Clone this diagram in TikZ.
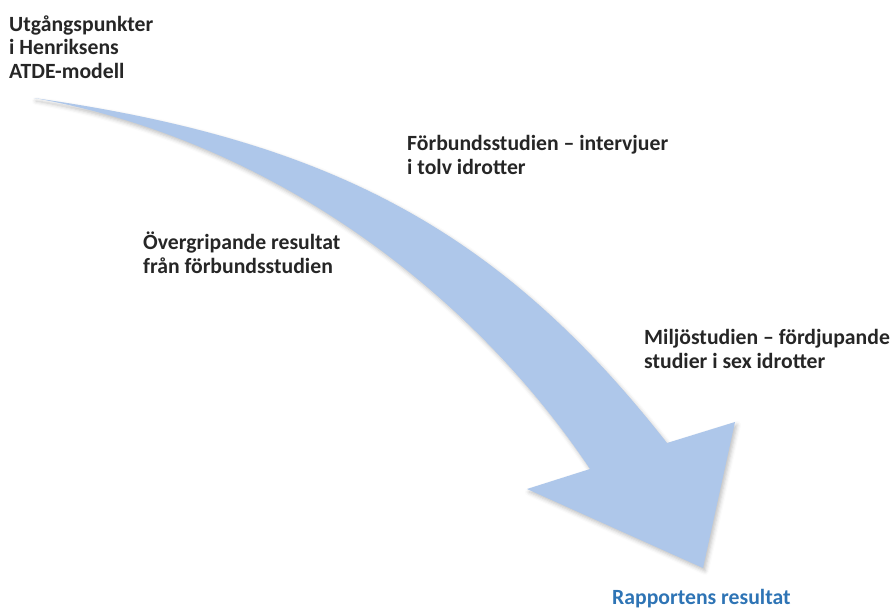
\documentclass[tikz,border=0pt]{standalone}
\usepackage{fontspec}
\setmainfont{Carlito}
\usepackage{xcolor}
\usetikzlibrary{shadows.blur}

\definecolor{arrowblue}{HTML}{AEC7EA}
\definecolor{labelgray}{HTML}{262626}
\definecolor{resultblue}{HTML}{2E74B5}

\tikzset{
  stagetext/.style={anchor=base west, inner sep=0pt, align=left,
    font=\fontsize{21.7}{23.5}\selectfont\bfseries, text=labelgray},
  resulttext/.style={stagetext, text=resultblue}
}

\begin{document}
\begin{tikzpicture}[x=1pt,y=-1pt]
  \useasboundingbox (0,0) rectangle (891,610);

  % the curved arrow
  \fill[arrowblue, blur shadow={shadow xshift=2pt, shadow yshift=-3pt,
      shadow opacity=25, shadow blur radius=4pt}]
    (34,98) .. controls (330,140) and (500,230) .. (667,443)
    -- (735,422) -- (703,568) -- (527,489) -- (590,469)
    .. controls (470,290) and (270,140) .. (34,98) -- cycle;

  % labels along the arrow (anchored at the last line)
  \node[stagetext] (start) at (9,78) {Utgångspunkter\\i Henriksens\\ATDE-modell};
  \node[stagetext] (forbund) at (407,174) {Förbundsstudien – intervjuer\\i tolv idrotter};
  \node[stagetext] (overgrip) at (143,273) {Övergripande resultat\\från förbundsstudien};
  \node[stagetext] (miljo) at (644,368) {Miljöstudien – fördjupande\\studier i sex idrotter};
  \node[resulttext] (rapport) at (612,604) {Rapportens resultat};
\end{tikzpicture}
\end{document}
